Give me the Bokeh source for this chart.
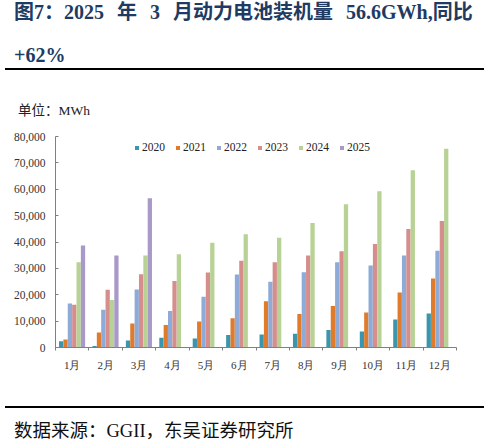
import numpy as np
from bokeh.plotting import figure
from bokeh.layouts import column
from bokeh.models import (Legend, LegendItem, FixedTicker, NumeralTickFormatter, Range1d, Div)
from bokeh.embed import file_html
from bokeh.resources import INLINE

months = ["1月", "2月", "3月", "4月", "5月", "6月", "7月", "8月", "9月", "10月", "11月", "12月"]
years = ["2020", "2021", "2022", "2023", "2024", "2025"]
v2020 = [2400, 600, 2700, 3700, 3400, 4700, 4900, 5200, 6600, 6100, 10600, 12900]
v2021 = [3000, 5700, 9100, 8500, 9900, 11100, 17500, 12700, 15700, 13300, 20900, 26200]
v2022 = [16700, 14300, 22000, 13800, 19200, 27700, 24900, 28500, 32300, 31100, 34900, 36700]
v2023 = [16200, 21900, 27800, 25200, 28400, 32900, 32300, 34900, 36500, 39200, 44900, 48000]
v2024 = [32300, 18000, 34900, 35400, 39700, 42900, 41600, 47200, 54300, 59200, 67200, 75400]
v2025 = [38700, 34900, 56600]
series = [v2020, v2021, v2022, v2023, v2024, v2025]
colors = ["#3b96ad", "#e07b2c", "#8eaad6", "#d68e8c", "#b8d194", "#a999c9"]
y_ticks = [0, 10000, 20000, 30000, 40000, 50000, 60000, 70000, 80000]

title1 = "图7：2025 年 3 月动力电池装机量 56.6GWh,同比"
title2 = "+62%"
unit_text = "单位：MWh"
source_text = "数据来源：GGII，东吴证券研究所"

W = 479
serif = "Liberation Serif"
css_font = "'Liberation Serif', 'Noto Sans CJK SC', serif"
navy = "#1f3b63"

head = Div(width=W, height=119, text=f"""
<div style="position:relative;width:{W}px;height:119px;font-family:{css_font};">
  <div style="position:absolute;left:9px;top:-3px;white-space:pre;font-size:20px;line-height:20px;font-weight:bold;color:{navy};word-spacing:8px;">{title1}</div>
  <div style="position:absolute;left:9px;top:40px;white-space:pre;font-size:20px;line-height:20px;font-weight:bold;color:{navy};">{title2}</div>
  <div style="position:absolute;left:0px;top:63px;width:{W}px;height:1.7px;background:#000;"></div>
  <div style="position:absolute;left:13px;top:99px;white-space:pre;font-size:13.5px;line-height:13.5px;color:#222;">{unit_text}</div>
</div>""")

p = figure(width=W, height=268, output_backend="svg", toolbar_location=None,
           x_range=Range1d(0, 12), y_range=Range1d(0, 80000),
           min_border_left=55, min_border_right=23, min_border_top=7, min_border_bottom=50)
p.outline_line_color = None
p.grid.grid_line_color = None

offsets = [0.17 + 0.1306 * k for k in range(6)]
items = []
for yr, vals, c, off in zip(years, series, colors, offsets):
    xs = np.arange(len(vals)) + off
    r = p.vbar(x=xs, top=vals, width=0.128, fill_color=c, line_color=None)
    items.append(LegendItem(label=yr, renderers=[r]))

legend = Legend(items=items, orientation="horizontal", location=(79, 194),
                glyph_width=5, glyph_height=5, label_standoff=3, spacing=10,
                padding=0, margin=0, label_height=10,
                label_text_font=serif, label_text_font_size="11.5px",
                label_text_color="#222222",
                background_fill_alpha=0, border_line_color=None)
p.add_layout(legend)

# x axis
p.xaxis.ticker = FixedTicker(ticks=[i + 0.5 for i in range(12)],
                             minor_ticks=list(range(13)))
p.xaxis.major_label_overrides = {i + 0.5: m for i, m in enumerate(months)}
p.xaxis.major_tick_line_color = None
p.xaxis.minor_tick_line_color = "#808080"
p.xaxis.minor_tick_in = 0
p.xaxis.minor_tick_out = 3
p.xaxis.axis_line_color = "#808080"
p.xaxis.major_label_standoff = 5
p.xaxis.major_label_text_font = serif
p.xaxis.major_label_text_font_size = "11px"
p.xaxis.major_label_text_color = "#333333"

# y axis
p.yaxis.ticker = FixedTicker(ticks=y_ticks, minor_ticks=[])
p.yaxis.formatter = NumeralTickFormatter(format="0,0")
p.yaxis.axis_line_color = "#808080"
p.yaxis.major_tick_line_color = "#808080"
p.yaxis.major_tick_in = 3
p.yaxis.major_tick_out = 0
p.yaxis.major_label_standoff = 10
p.yaxis.major_label_text_font = serif
p.yaxis.major_label_text_font_size = "11.5px"
p.yaxis.major_label_text_color = "#333333"

foot = Div(width=W, height=44, text=f"""
<div style="position:relative;width:{W}px;height:44px;font-family:{css_font};">
  <div style="position:absolute;left:0px;top:4px;width:{W}px;height:1.7px;background:#000;"></div>
  <div style="position:absolute;left:9px;top:20px;white-space:pre;font-size:18.5px;line-height:18.5px;color:#111;">{source_text}</div>
</div>""")

layout = column(head, p, foot, spacing=0)
open("out.html", "w").write(file_html(layout, INLINE))
